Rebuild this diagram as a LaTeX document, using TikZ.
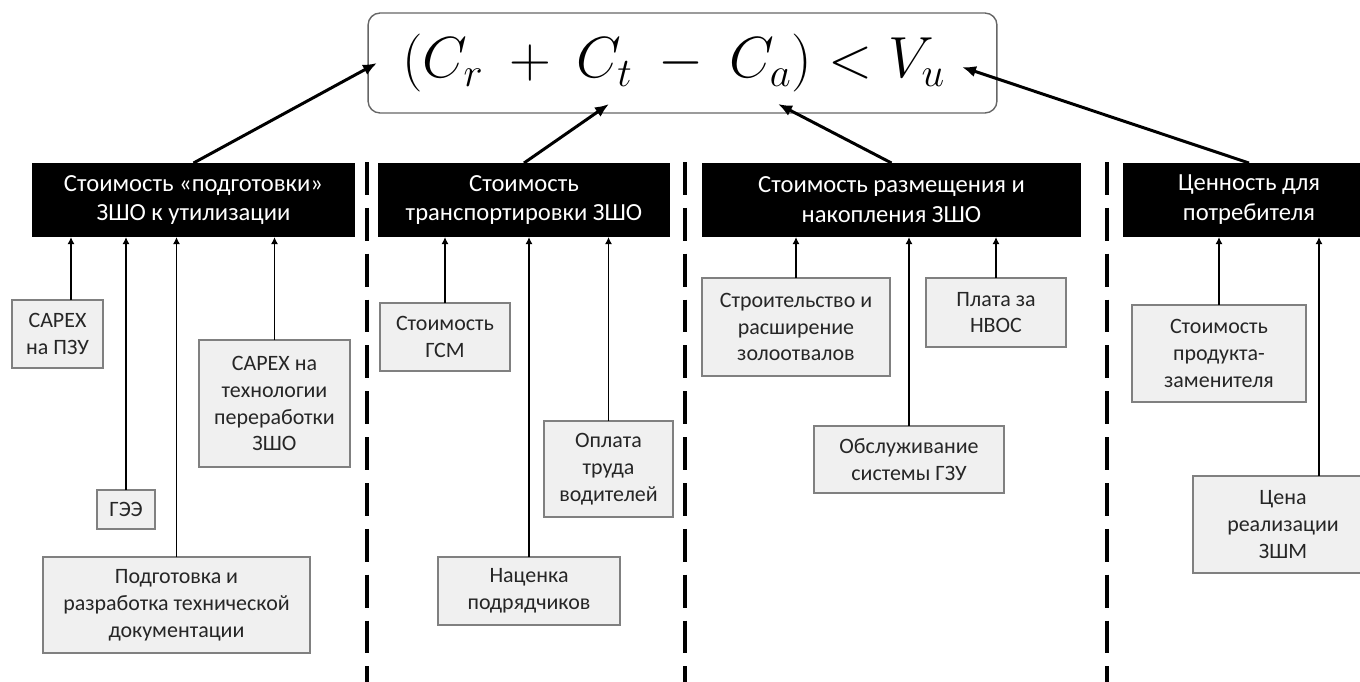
\RequirePackage{fix-cm}
\documentclass[tikz,border=0pt]{standalone}
\usepackage{fontspec}
\setmainfont{Carlito}
\usepackage{amsmath}
\usepackage{tikz}
\usetikzlibrary{arrows.meta}

\begin{document}
\begin{tikzpicture}[x=0.02cm,y=-0.02cm,
		head/.style={fill=black, text=white, inner sep=0pt, outer sep=0pt, align=center, font=\fontsize{14}{17}\selectfont},
		sub/.style={fill=black!6, draw=black!50, line width=0.9pt, text=black!85, inner sep=0pt, outer sep=0pt, align=center, font=\fontsize{12.5}{15.3}\selectfont},
		mainarr/.style={line width=1.7pt, -{Latex[length=8pt,width=6.5pt]}},
		subarr/.style={line width=1.1pt, -{Latex[length=4pt,width=4pt]}},
		sep/.style={line width=2.2pt, dash pattern=on 18.7pt off 7.4pt}]
				\useasboundingbox (0,0) rectangle (1360,681);
				% formula
				\node[draw=black!60, line width=0.8pt, rounded corners=0.24cm, minimum width=12.58cm, minimum height=2cm, inner sep=0pt] (F) at (682.5,63) {\fontsize{33}{39}\selectfont$(C_r\:+\:C_t\:-\:C_a)<V_u$\hspace*{0.35cm}};
				\coordinate (inCr) at (377,63);
				\coordinate (inCt) at (609,104);
				\coordinate (inCa) at (778,104);
				\coordinate (inVu) at (962,67);
				
				% separators
				\draw[sep] (367,162) -- (367,690);
				\draw[sep] (685,162) -- (685,690);
				\draw[sep] (1107,162) -- (1107,690);
				
				% headers
				\node[head, minimum width=6.46cm, minimum height=1.48cm] (h1) at (193.5,200) {Стоимость «подготовки»\\ЗШО к утилизации};
				\node[head, minimum width=5.84cm, minimum height=1.48cm] (h2) at (524,200) {Стоимость\\транспортировки ЗШО};
				\node[head, minimum width=7.58cm, minimum height=1.48cm] (h3) at (891.5,200) {Стоимость размещения и\\накопления ЗШО};
				\node[head, minimum width=5.04cm, minimum height=1.48cm] (h4) at (1249,200) {Ценность для\\потребителя};
				\draw[mainarr] (h1.north) -- (inCr);
				\draw[mainarr] (h2.north) -- (inCt);
				\draw[mainarr] (h3.north) -- (inCa);
				\draw[mainarr] (h4.north) -- (inVu);
				
				% group 1
				\node[sub, minimum width=1.82cm, minimum height=1.36cm] (s11) at (57.5,334) {CAPEX\\на ПЗУ};
				\node[sub, minimum width=1.16cm, minimum height=0.78cm] (s12) at (126,509.5) {ГЭЭ};
				\node[sub, minimum width=5.34cm, minimum height=1.92cm] (s13) at (176.5,605) {Подготовка и\\разработка технической\\документации};
				\node[sub, minimum width=3.02cm, minimum height=2.54cm] (s14) at (274.5,403.5) {CAPEX на\\технологии\\переработки\\ЗШО};
				\draw[subarr] ([xshift=0.27cm]s11.north) -- ([xshift=0.27cm]s11.north |- h1.south);
				\draw[subarr] (s12.north) -- (s12.north |- h1.south);
				\draw[subarr] (s13.north) -- (s13.north |- h1.south);
				\draw[subarr] (s14.north) -- (s14.north |- h1.south);
				
				% group 2
				\node[sub, minimum width=2.6cm, minimum height=1.36cm] (s21) at (445,337) {Стоимость\\ГСМ};
				\node[sub, minimum width=3.64cm, minimum height=1.36cm] (s22) at (529,591) {Наценка\\подрядчиков};
				\node[sub, minimum width=2.58cm, minimum height=1.92cm] (s23) at (608.5,469) {Оплата\\труда\\водителей};
				\draw[subarr] (s21.north) -- (s21.north |- h2.south);
				\draw[subarr] (s22.north) -- (s22.north |- h2.south);
				\draw[subarr] (s23.north) -- (s23.north |- h2.south);
				
				% group 3
				\node[sub, minimum width=3.76cm, minimum height=1.96cm] (s31) at (796,327) {Строительство и\\расширение\\золоотвалов};
				\node[sub, minimum width=2.8cm, minimum height=1.38cm] (s32) at (996,312.5) {Плата за\\НВОС};
				\node[sub, minimum width=3.8cm, minimum height=1.34cm] (s33) at (909,459.5) {Обслуживание\\системы ГЗУ};
				\draw[subarr] (s31.north) -- (s31.north |- h3.south);
				\draw[subarr] (s32.north) -- (s32.north |- h3.south);
				\draw[subarr] (s33.north) -- (s33.north |- h3.south);
				
				% group 4
				\node[sub, minimum width=3.48cm, minimum height=1.94cm] (s41) at (1219,353.5) {Стоимость\\продукта-\\заменителя};
				\node[sub, minimum width=3.6cm, minimum height=1.94cm] (s42) at (1283,524.5) {Цена\\реализации\\ЗШМ};
				\draw[subarr] (s41.north) -- (s41.north |- h4.south);
				\draw[subarr] ([xshift=0.72cm]s42.north) -- ([xshift=0.72cm]s42.north |- h4.south);
\end{tikzpicture}
\end{document}
